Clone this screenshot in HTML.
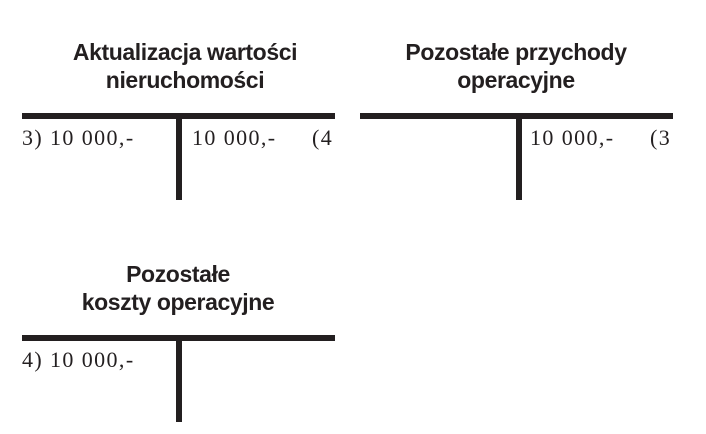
<!DOCTYPE html>
<html><head><meta charset="utf-8"><style>
body{margin:0;width:706px;height:434px;background:#fff;position:relative;overflow:hidden;color:#231f20}
.t{position:absolute;font-family:"Liberation Sans",sans-serif;font-weight:bold;font-size:23px;line-height:28px;text-align:center;width:340px;letter-spacing:-0.4px}
.b{position:absolute;background:#231f20}
.v{position:absolute;font-family:"Liberation Serif",serif;font-size:22px;line-height:24px;white-space:nowrap;letter-spacing:1.4px}
</style></head><body>
<div class="t" style="left:15px;top:38px">Aktualizacja wartości<br>nieruchomości</div>
<div class="t" style="left:346px;top:38px">Pozostałe przychody<br>operacyjne</div>
<div class="t" style="left:8px;top:260px">Pozostałe<br>koszty operacyjne</div>

<div class="b" style="left:22px;top:113px;width:313px;height:6px"></div>
<div class="b" style="left:176px;top:113px;width:6px;height:87px"></div>
<div class="b" style="left:360px;top:113px;width:313px;height:6px"></div>
<div class="b" style="left:516px;top:113px;width:6px;height:87px"></div>
<div class="b" style="left:22px;top:335px;width:313px;height:6px"></div>
<div class="b" style="left:176px;top:335px;width:6px;height:87px"></div>

<div class="v" style="left:22px;top:126px">3) 10 000,-</div>
<div class="v" style="left:192px;top:126px">10 000,-</div>
<div class="v" style="left:312px;top:126px">(4</div>
<div class="v" style="left:530px;top:126px">10 000,-</div>
<div class="v" style="left:650px;top:126px">(3</div>
<div class="v" style="left:22px;top:348px">4) 10 000,-</div>
</body></html>
